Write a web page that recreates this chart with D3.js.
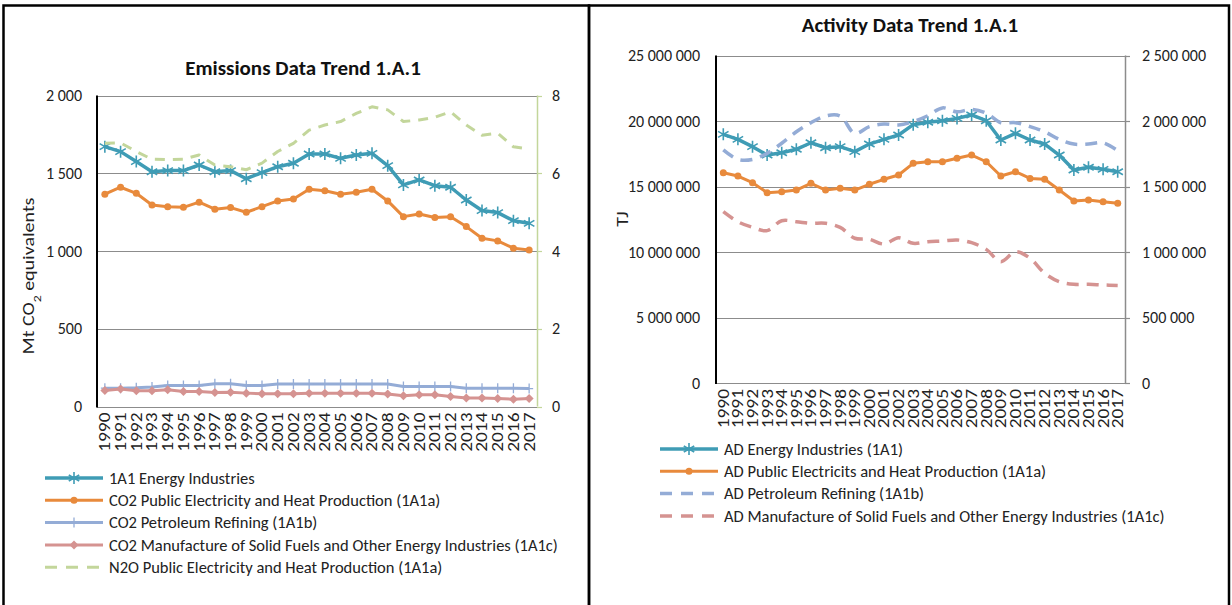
<!DOCTYPE html>
<meta charset="utf-8">
<head>
<title>Emissions and Activity Data Trend 1.A.1</title>
</head>
<style>
html, body {
  margin: 0;
  overflow: hidden;
  background: #fff;
  font-family: Calibri, Carlito, Lato, "Open Sans", sans-serif;
}
.grid line { stroke: #8c8c8c; stroke-width: 1; }
.tick-label { font-size: 16px; fill: #222; }
.year-label { font-size: 15.5px; fill: #222; }
.legend text { font-size: 16.5px; fill: #222; }
.title { font-size: 21px; font-weight: bold; fill: #111; }
</style>
<body>
<script src="https://cdn.jsdelivr.net/npm/d3@7"></script>
<script>

// categories
var years = ["1990","1991","1992","1993","1994","1995","1996","1997","1998","1999",
             "2000","2001","2002","2003","2004","2005","2006","2007","2008","2009",
             "2010","2011","2012","2013","2014","2015","2016","2017"];

// emissions (Mt CO2 eq, left axis) and N2O (right axis)
var energyInd = [1671,1639,1575,1510,1517,1517,1553,1510,1517,1465,1504,1542,1564,1624,
                 1624,1596,1617,1628,1549,1425,1457,1420,1410,1328,1260,1247,1195,1178];
var co2Public = [1365,1410,1371,1296,1285,1281,1314,1269,1279,1249,1285,1322,1335,1397,
                 1388,1365,1378,1397,1322,1221,1238,1215,1220,1157,1082,1065,1018,1007];
var co2Refining = [118,118,120,125,135,135,135,146,146,135,135,144,144,144,
                   144,144,144,144,144,129,129,129,129,118,118,118,118,115];
var co2Solid = [103,112,101,101,107,97,97,90,92,86,82,82,82,86,
                86,86,86,86,80,69,75,75,64,54,54,51,47,51];
var n2oPublic = [6.77,6.78,6.56,6.36,6.35,6.36,6.47,6.21,6.17,6.09,6.26,6.56,6.77,7.11,
                 7.24,7.33,7.54,7.71,7.63,7.33,7.37,7.44,7.58,7.24,6.98,7.03,6.68,6.62];

// activity data (TJ, left axis for first two, right axis for the others)
var adEnergy = [18980000,18600000,18040000,17400000,17580000,17840000,18340000,17960000,18040000,17660000,
                18240000,18600000,18930000,19720000,19900000,20020000,20200000,20460000,20020000,18550000,
                19060000,18550000,18240000,17400000,16260000,16470000,16310000,16130000];
var adPublic = [16050000,15800000,15290000,14530000,14600000,14730000,15240000,14730000,14860000,14730000,
                15170000,15550000,15880000,16770000,16890000,16890000,17150000,17400000,16890000,15800000,
                16130000,15620000,15550000,14730000,13890000,13970000,13840000,13720000];
var adRefining = [1779000,1707000,1707000,1753000,1830000,1918000,1987000,2038000,2038000,1906000,
                  1957000,1977000,1970000,1995000,2040000,2100000,2070000,2089000,2060000,1987000,
                  1987000,1957000,1918000,1860000,1824000,1824000,1834000,1773000];
var adSolid = [1308000,1231000,1188000,1163000,1239000,1231000,1219000,1219000,1188000,1105000,
               1097000,1061000,1109000,1066000,1079000,1084000,1092000,1071000,1020000,926000,
               1002000,952000,837000,773000,753000,753000,748000,745000];

var leftTicks = [0, 500, 1000, 1500, 2000];
var rightTicks = [0, 2, 4, 6, 8];
var adLeftTicks = [0, 5000000, 10000000, 15000000, 20000000, 25000000];
var adRightTicks = [0, 500000, 1000000, 1500000, 2000000, 2500000];

var teal = "#3f9cb5", orange = "#e88a3c", blue = "#94acd6", rose = "#d59391", green = "#c3d69b";

var fmt = d3.formatLocale({decimal: ",", thousands: " ", grouping: [3], currency: ["", ""]}).format(",d");

var width = 1232, height = 605;
var svg = d3.select("body").append("svg")
    .attr("width", width)
    .attr("height", height);

// panel borders
svg.append("rect").attr("x", 3.5).attr("y", 5.5).attr("width", 585.5).attr("height", 620)
    .attr("fill", "none").attr("stroke", "#000").attr("stroke-width", 2.5);
svg.append("rect").attr("x", 589).attr("y", 5.5).attr("width", 640).attr("height", 620)
    .attr("fill", "none").attr("stroke", "#000").attr("stroke-width", 2.5);

// marker shapes
function starPath(s) {
  var d = s * 0.87, h = s * 0.5;
  return "M0," + (-s) + "L0," + s + "M" + (-d) + "," + (-h) + "L" + d + "," + h +
         "M" + (-d) + "," + h + "L" + d + "," + (-h);
}
function drawMarkers(g, pts, type, color) {
  pts.forEach(function (p) {
    if (type == "star") {
      g.append("path").attr("d", starPath(6)).attr("transform", "translate(" + p[0] + "," + p[1] + ")")
        .attr("stroke", color).attr("stroke-width", 1.6).attr("fill", "none");
    } else if (type == "dot") {
      g.append("circle").attr("cx", p[0]).attr("cy", p[1]).attr("r", 3.5).attr("fill", color);
    } else if (type == "plus") {
      g.append("path").attr("d", "M0,-5L0,5M-4,0L4,0").attr("transform", "translate(" + p[0] + "," + p[1] + ")")
        .attr("stroke", color).attr("stroke-width", 1.3).attr("fill", "none");
    } else if (type == "diamond") {
      g.append("path").attr("d", "M0,-4.5L4.5,0L0,4.5L-4.5,0Z").attr("transform", "translate(" + p[0] + "," + p[1] + ")")
        .attr("fill", color);
    }
  });
}

function drawChart(cfg) {
  var g = svg.append("g");
  var x = d3.scaleBand().domain(years).range([cfg.x0, cfg.x1]);
  var yL = d3.scaleLinear().domain([0, cfg.leftMax]).range([cfg.y1, cfg.y0]);
  var yR = d3.scaleLinear().domain([0, cfg.rightMax]).range([cfg.y1, cfg.y0]);

  // gridlines
  g.append("g").attr("class", "grid").selectAll("line").data(cfg.leftTicks).enter().append("line")
    .attr("x1", cfg.x0).attr("x2", cfg.x1)
    .attr("y1", function (d) { return Math.round(yL(d)) + 0.5; })
    .attr("y2", function (d) { return Math.round(yL(d)) + 0.5; });

  // left axis line
  g.append("line").attr("x1", cfg.x0).attr("x2", cfg.x0).attr("y1", cfg.y0).attr("y2", cfg.y1 + 1)
    .attr("stroke", "#000").attr("stroke-width", 2);

  // right axis line with outward ticks
  g.append("line").attr("x1", cfg.x1 + 0.5).attr("x2", cfg.x1 + 0.5).attr("y1", cfg.y0).attr("y2", cfg.y1)
    .attr("stroke", cfg.rightAxisColor).attr("stroke-width", 1.5);
  g.append("g").selectAll("line").data(cfg.rightTicks).enter().append("line")
    .attr("x1", cfg.x1).attr("x2", cfg.x1 + 5)
    .attr("y1", function (d) { return Math.round(yR(d)) + 0.5; })
    .attr("y2", function (d) { return Math.round(yR(d)) + 0.5; })
    .attr("stroke", cfg.rightAxisColor).attr("stroke-width", 1.2);

  // tick labels
  g.append("g").selectAll("text").data(cfg.leftTicks).enter().append("text")
    .attr("class", "tick-label")
    .attr("x", cfg.leftLabelX).attr("y", function (d) { return yL(d); })
    .attr("dy", "0.35em").attr("text-anchor", "end")
    .text(function (d) { return fmt(d); });
  g.append("g").selectAll("text").data(cfg.rightTicks).enter().append("text")
    .attr("class", "tick-label")
    .attr("x", cfg.rightLabelX).attr("y", function (d) { return yR(d); })
    .attr("dy", "0.35em").attr("text-anchor", "start")
    .text(function (d) { return fmt(d); });

  // year labels (vertical text reads a bit taller in the original)
  g.append("g").selectAll("text").data(years).enter().append("text")
    .attr("class", "year-label")
    .attr("transform", function (d) {
      return "translate(" + (x(d) + x.bandwidth() / 2) + "," + (cfg.y1 + 6) + ") rotate(-90) scale(1.25,1)";
    })
    .attr("dy", "0.35em").attr("text-anchor", "end")
    .text(function (d) { return d; });

  // title
  g.append("text").attr("class", "title").attr("x", cfg.titleX).attr("y", cfg.titleY)
    .attr("text-anchor", "middle").text(cfg.title);

  // y axis label
  var yl = g.append("text").attr("class", "tick-label")
    .attr("transform", "translate(" + cfg.yLabelX + "," + cfg.yLabelY + ") rotate(-90) scale(1.25,1)")
    .attr("text-anchor", "middle");
  cfg.yLabel(yl);

  // series
  cfg.series.forEach(function (s) {
    var yS = s.axis == "right" ? yR : yL;
    var pts = s.values.map(function (v, i) {
      return [x(years[i]) + x.bandwidth() / 2, yS(v)];
    });
    var line = d3.line().curve(s.smooth ? d3.curveCatmullRom.alpha(0.5) : d3.curveLinear);
    g.append("path").attr("d", line(pts)).attr("fill", "none")
      .attr("stroke", s.color).attr("stroke-width", s.width)
      .attr("stroke-dasharray", s.dash || null)
      .attr("stroke-linejoin", "round");
    if (s.marker) drawMarkers(g, pts, s.marker, s.color);
  });

  // legend
  var lg = g.append("g").attr("class", "legend");
  cfg.series.forEach(function (s, i) {
    var ly = cfg.legendY + i * cfg.legendStep;
    lg.append("line").attr("x1", cfg.legendX).attr("x2", cfg.legendX + 58)
      .attr("y1", ly).attr("y2", ly)
      .attr("stroke", s.color).attr("stroke-width", s.width)
      .attr("stroke-dasharray", s.dash ? "12,9" : null);
    if (s.marker) drawMarkers(lg, [[cfg.legendX + 29, ly]], s.marker, s.color);
    lg.append("text").attr("x", cfg.legendX + 64).attr("y", ly).attr("dy", "0.35em").text(s.name);
  });
}

drawChart({
  x0: 97, x1: 537, y0: 95.5, y1: 406.5,
  leftMax: 2000, rightMax: 8,
  leftTicks: leftTicks, rightTicks: rightTicks,
  leftLabelX: 82, rightLabelX: 552,
  rightAxisColor: green,
  title: "Emissions Data Trend 1.A.1", titleX: 303, titleY: 75,
  yLabelX: 34, yLabelY: 276,
  yLabel: function (t) {
    t.append("tspan").text("Mt CO");
    t.append("tspan").attr("baseline-shift", "sub").attr("font-size", "11px").text("2");
    t.append("tspan").text("  equivalents");
  },
  legendX: 45, legendY: 478, legendStep: 22.3,
  series: [
    {name: "1A1 Energy Industries", values: energyInd, color: teal, width: 3.5, marker: "star"},
    {name: "CO2 Public Electricity and Heat Production (1A1a)", values: co2Public, color: orange, width: 3, marker: "dot"},
    {name: "CO2 Petroleum Refining (1A1b)", values: co2Refining, color: blue, width: 3, marker: "plus"},
    {name: "CO2 Manufacture of Solid Fuels and Other Energy Industries (1A1c)", values: co2Solid, color: rose, width: 3, marker: "diamond"},
    {name: "N2O Public Electricity and Heat Production (1A1a)", values: n2oPublic, color: green, width: 3, dash: "10,8", axis: "right"}
  ]
});

drawChart({
  x0: 716, x1: 1125, y0: 55.5, y1: 383,
  leftMax: 25000000, rightMax: 2500000,
  leftTicks: adLeftTicks, rightTicks: adRightTicks,
  leftLabelX: 700, rightLabelX: 1142,
  rightAxisColor: "#8c8c8c",
  title: "Activity Data Trend 1.A.1", titleX: 910, titleY: 32,
  yLabelX: 628, yLabelY: 219,
  yLabel: function (t) { t.text("TJ"); },
  legendX: 660, legendY: 449, legendStep: 22.3,
  series: [
    {name: "AD Energy Industries (1A1)", values: adEnergy, color: teal, width: 3.5, marker: "star"},
    {name: "AD Public Electricits and Heat Production (1A1a)", values: adPublic, color: orange, width: 3, marker: "dot"},
    {name: "AD Petroleum Refining (1A1b)", values: adRefining, color: blue, width: 3.5, dash: "12,8", axis: "right", smooth: true},
    {name: "AD Manufacture of Solid Fuels and Other Energy Industries (1A1c)", values: adSolid, color: rose, width: 3.5, dash: "12,8", axis: "right", smooth: true}
  ]
});

</script>
</body>
